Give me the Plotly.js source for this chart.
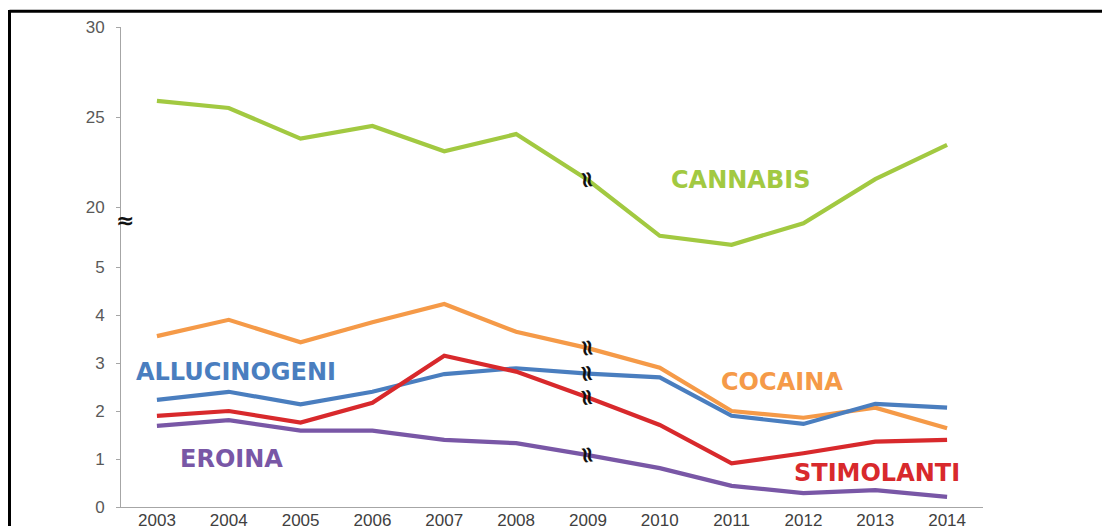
<!DOCTYPE html>
<html>
<head>
<meta charset="utf-8">
<script src="https://cdn.plot.ly/plotly-3.0.1.min.js"></script>
<style>
html,body{margin:0;padding:0;background:#fff;}
#chart{width:1102px;height:526px;}
</style>
</head>
<body>
<div id="chart"></div>
<script>
// ---- data ----
const years = ['2003','2004','2005','2006','2007','2008','2009','2010','2011','2012','2013','2014'];
const cannabis     = [25.9, 25.5, 23.8, 24.5, 23.1, 24.05, 21.5, 18.4, 17.9, 19.1, 21.55, 23.45];
const cocaina      = [3.56, 3.90, 3.43, 3.85, 4.23, 3.65, 3.31, 2.90, 2.00, 1.86, 2.07, 1.64];
const allucinogeni = [2.23, 2.40, 2.14, 2.40, 2.77, 2.89, 2.78, 2.70, 1.90, 1.73, 2.15, 2.07];
const stimolanti   = [1.90, 2.00, 1.76, 2.17, 3.15, 2.82, 2.28, 1.71, 0.91, 1.12, 1.36, 1.40];
const eroina       = [1.69, 1.81, 1.59, 1.59, 1.40, 1.33, 1.08, 0.81, 0.44, 0.29, 0.35, 0.21];
const lowerTicks = [0, 1, 2, 3, 4, 5];
const upperTicks = [20, 25, 30];
const breakYear = '2009';

// ---- styling ----
const FONT = 'Arial, "Liberation Sans", sans-serif';
const LABEL_FONT = '"DejaVu Sans", Verdana, sans-serif';
const C = {
  cannabis: '#a2c941',
  cocaina: '#f59a48',
  allucinogeni: '#4a7ebf',
  stimolanti: '#d8292c',
  eroina: '#7957a6'
};

function line(y, color, axis) {
  return {
    x: years, y: y, type: 'scatter', mode: 'lines',
    yaxis: axis, line: {color: color, width: 4.2, shape: 'linear'},
    hoverinfo: 'x+y'
  };
}

const traces = [
  line(cannabis, C.cannabis, 'y2'),
  line(cocaina, C.cocaina, 'y'),
  line(allucinogeni, C.allucinogeni, 'y'),
  line(stimolanti, C.stimolanti, 'y'),
  line(eroina, C.eroina, 'y')
];

const bi = years.indexOf(breakYear);
function breakMark(v, yref) {
  return {
    x: bi, y: v, xref: 'x', yref: yref, text: '<b>≈</b>', showarrow: false,
    textangle: 80, font: {family: 'DejaVu Sans', size: 23, color: '#111'},
    xanchor: 'center', yanchor: 'middle'
  };
}
function label(text, x, y, color) {
  return {
    x: x, y: y, xref: 'paper', yref: 'paper', text: '<b>' + text + '</b>',
    showarrow: false, xanchor: 'center', yanchor: 'middle',
    font: {family: LABEL_FONT, size: 24, color: color}
  };
}
// paper coordinates from pixel positions of the plot area
const L = 121, R = 983, T = 27, B = 507;
const px = p => (p - L) / (R - L);
const py = p => (B - p) / (B - T);

const layout = {
  width: 1102, height: 526,
  margin: {l: L, r: 1102 - R, t: T, b: 526 - B, pad: 0},
  paper_bgcolor: '#fff', plot_bgcolor: '#fff',
  showlegend: false,
  font: {family: FONT},
  xaxis: {
    type: 'category', range: [-0.5, years.length - 0.5],
    showline: true, linecolor: '#a6a6a6', linewidth: 1,
    showgrid: false, zeroline: false, ticks: '',
    ticklabelstandoff: -2,
    tickfont: {family: FONT, size: 17, color: '#404040'}
  },
  yaxis: {
    range: [0, 10], tickvals: lowerTicks, ticktext: lowerTicks.map(String),
    showline: true, linecolor: '#a6a6a6', linewidth: 1,
    showgrid: false, zeroline: false,
    ticks: 'outside', ticklen: 4, tickcolor: '#a6a6a6',
    ticklabelstandoff: 8,
    tickfont: {family: FONT, size: 17, color: '#595959'}
  },
  yaxis2: {
    overlaying: 'y', side: 'left',
    range: [30 - (B - T) / 18, 30], tickvals: upperTicks, ticktext: upperTicks.map(String),
    showline: false, showgrid: false, zeroline: false,
    ticks: 'outside', ticklen: 4, tickcolor: '#a6a6a6',
    ticklabelstandoff: 8,
    tickfont: {family: FONT, size: 17, color: '#595959'}
  },
  annotations: [
    label('CANNABIS', px(740), py(180), C.cannabis),
    label('ALLUCINOGENI', px(236), py(372), C.allucinogeni),
    label('COCAINA', px(782), py(382), C.cocaina),
    label('EROINA', px(231), py(459), C.eroina),
    label('STIMOLANTI', px(877), py(473), C.stimolanti),
    breakMark(cannabis[bi], 'y2'),
    breakMark(cocaina[bi], 'y'),
    breakMark(allucinogeni[bi], 'y'),
    breakMark(stimolanti[bi], 'y'),
    breakMark(eroina[bi], 'y'),
    {x: px(125), y: py(220), xref: 'paper', yref: 'paper', text: '<b>≈</b>', showarrow: false,
     font: {family: 'DejaVu Sans', size: 22, color: '#111'}, xanchor: 'center', yanchor: 'middle'}
  ],
  shapes: [
    {type: 'line', xref: 'paper', yref: 'paper', x0: px(9.5), x1: px(1110), y0: py(11.3), y1: py(11.3),
     line: {color: '#000', width: 3}},
    {type: 'line', xref: 'paper', yref: 'paper', x0: px(9.5), x1: px(9.5), y0: py(10), y1: py(540),
     line: {color: '#000', width: 3}}
  ]
};

Plotly.newPlot('chart', traces, layout, {displayModeBar: false, staticPlot: true});
</script>
</body>
</html>
